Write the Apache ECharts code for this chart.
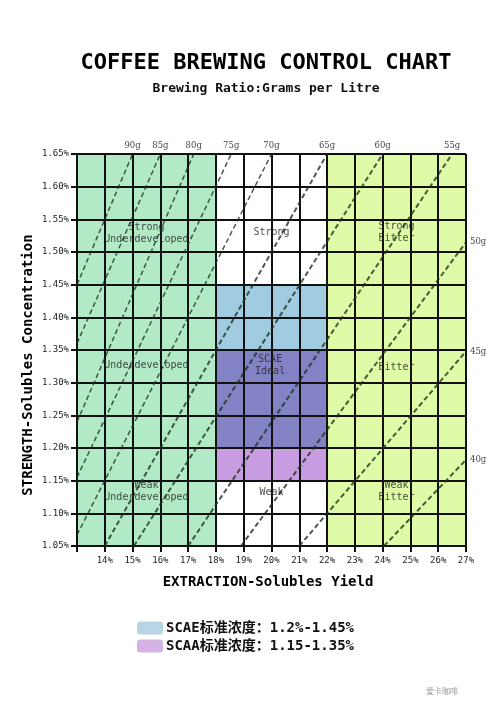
<!DOCTYPE html>
<html>
<head>
<meta charset="utf-8">
<title>Coffee Brewing Control Chart</title>
<script src="https://cdn.jsdelivr.net/npm/echarts@6/dist/echarts.min.js"></script>
<style>
  html, body { margin: 0; padding: 0; background: #fff; }
  #chart-container { width: 500px; height: 707px; }
</style>
</head>
<body>
<div id="chart-container"></div>
<script>
// extraction (%) on x, strength / TDS (%) on y
var xMin = 13, xMax = 27, xStep = 1;
var yMin = 1.05, yMax = 1.65, yStep = 0.05;

// coloured zones: [from, to] on each axis
var zoneNames = ["Underdeveloped", "Bitter", "SCAE", "SCAE+SCAA", "SCAA"];
var zoneX = [[13, 18], [22, 27], [18, 22], [18, 22], [18, 22]];
var zoneY = [[1.05, 1.65], [1.05, 1.65], [1.35, 1.45], [1.2, 1.35], [1.15, 1.2]];

// brewing ratio lines (grams per litre), low end and high end
var ratioNames = ["90g", "85g", "80g", "75g", "70g", "65g", "60g", "55g", "50g", "45g", "40g"];
var ratioLow = [[13, 1.45], [13, 1.36], [13, 1.24], [13, 1.155], [13, 1.067], [14, 1.05],
                [15.05, 1.05], [17, 1.05], [18.9, 1.05], [21, 1.05], [24.05, 1.05]];
var ratioHigh = [[15, 1.65], [16, 1.65], [17.2, 1.65], [18.55, 1.65], [20, 1.65], [22, 1.65],
                 [24, 1.65], [26.5, 1.65], [27, 1.515], [27, 1.348], [27, 1.182]];

// zone captions
var regionNames = ["Strong\nUnderdeveloped", "Strong", "Strong\nBitter",
                   "Underdeveloped", "SCAE\nIdeal", "Bitter",
                   "Weak\nUnderdeveloped", "Weak", "Weak\nBitter"];
var regionPos = [[15.5, 1.528], [20, 1.53], [24.5, 1.53],
                 [15.5, 1.327], [19.95, 1.327], [24.5, 1.323],
                 [15.5, 1.133], [20, 1.132], [24.5, 1.133]];

var legendNames = ["SCAE标准浓度：1.2%-1.45%", "SCAA标准浓度：1.15-1.35%"];

var zoneColors = ["#b2e9c7", "#e0fba8", "#a0cbe0", "#8282c4", "#c89ce0"];
var lineColor = "rgba(30,50,30,0.8)";
var mono = "'DejaVu Sans Mono', monospace";

var dom = document.getElementById("chart-container");
var myChart = echarts.init(dom, null, { renderer: "canvas" });

var areaData = [];
for (var i = 0; i < zoneNames.length; i++) {
  areaData.push([
    { name: zoneNames[i], xAxis: zoneX[i][0], yAxis: zoneY[i][0], itemStyle: { color: zoneColors[i], opacity: 1 } },
    { xAxis: zoneX[i][1], yAxis: zoneY[i][1] }
  ]);
}

var series = [
  {
    name: "zones",
    type: "line",
    z: 1,
    data: [],
    silent: true,
    markArea: { silent: true, label: { show: false }, data: areaData }
  }
];

for (var j = 0; j < ratioNames.length; j++) {
  series.push({
    name: ratioNames[j],
    type: "line",
    z: 4,
    silent: true,
    symbol: "none",
    data: [ratioLow[j], ratioHigh[j]],
    lineStyle: { color: lineColor, width: j < 5 ? 1.5 : 2, type: [5, 3] }
  });
}

// ratio tags at the high end of each line
var tagData = [];
for (var k = 0; k < ratioNames.length; k++) {
  var onTop = ratioHigh[k][1] >= yMax;
  tagData.push({
    name: ratioNames[k],
    value: ratioHigh[k],
    label: { position: onTop ? "top" : "right", distance: 4 }
  });
}
series.push({
  name: "tags",
  type: "scatter",
  z: 5,
  silent: true,
  symbolSize: 0,
  data: tagData,
  label: {
    show: true,
    formatter: "{b}",
    fontFamily: "'DejaVu Serif', serif",
    fontSize: 8.5,
    color: "#111"
  }
});

var capData = [];
for (var m = 0; m < regionNames.length; m++) {
  capData.push({ name: regionNames[m], value: regionPos[m] });
}
series.push({
  name: "captions",
  type: "scatter",
  z: 5,
  silent: true,
  symbolSize: 0,
  data: capData,
  label: {
    show: true,
    position: "inside",
    formatter: "{b}",
    fontFamily: mono,
    fontSize: 10,
    lineHeight: 12,
    color: "#222"
  }
});

// legend dummies
series.push({ name: legendNames[0], type: "scatter", data: [], itemStyle: { color: "#a6cbe0" } });
series.push({ name: legendNames[1], type: "scatter", data: [], itemStyle: { color: "#c8a0e0" } });

var option = {
  backgroundColor: "#fff",
  animation: false,
  title: {
    text: "COFFEE BREWING CONTROL CHART",
    subtext: "Brewing Ratio:Grams per Litre",
    left: 261,
    textAlign: "center",
    top: 47,
    itemGap: 8,
    textStyle: { fontFamily: mono, fontWeight: "bold", fontSize: 22, color: "#000" },
    subtextStyle: { fontFamily: mono, fontWeight: "bold", fontSize: 13, color: "#111" }
  },
  legend: {
    data: legendNames,
    orient: "vertical",
    left: 132,
    top: 616,
    itemGap: 4,
    itemWidth: 26,
    itemHeight: 13,
    icon: "roundRect",
    selectedMode: false,
    textStyle: {
      fontFamily: "'DejaVu Sans Mono', 'Noto Sans CJK SC', sans-serif",
      fontWeight: "bold",
      fontSize: 14,
      color: "#111",
      padding: [0, 0, 0, -2]
    }
  },
  grid: { left: 77, right: 34, top: 154, bottom: 161 },
  xAxis: {
    type: "value",
    min: xMin,
    max: xMax,
    interval: xStep,
    z: 3,
    axisLine: { show: true, lineStyle: { color: "#111", width: 2 } },
    axisTick: { show: true, length: 6, lineStyle: { color: "#111", width: 2 } },
    splitLine: { show: true, lineStyle: { color: "#111", width: 2 } },
    axisLabel: {
      margin: 10,
      fontFamily: mono,
      fontSize: 9,
      color: "#222",
      formatter: function (v) { return v === xMin ? "" : v + "%"; }
    }
  },
  yAxis: {
    type: "value",
    min: yMin,
    max: yMax,
    interval: yStep,
    z: 3,
    axisLine: { show: true, lineStyle: { color: "#111", width: 2 } },
    axisTick: { show: true, length: 6, lineStyle: { color: "#111", width: 2 } },
    splitLine: { show: true, lineStyle: { color: "#111", width: 2 } },
    axisLabel: {
      margin: 8,
      fontFamily: mono,
      fontSize: 9,
      color: "#222",
      formatter: function (v) { return v.toFixed(2) + "%"; }
    }
  },
  graphic: [
    {
      type: "text",
      x: 28,
      y: 365,
      rotation: Math.PI / 2,
      style: {
        text: "STRENGTH-Solubles Concentration",
        fontFamily: mono,
        fontWeight: "bold",
        fontSize: 14,
        fill: "#000",
        align: "center",
        verticalAlign: "middle"
      }
    },
    {
      type: "text",
      x: 268,
      y: 582,
      style: {
        text: "EXTRACTION-Solubles Yield",
        fontFamily: mono,
        fontWeight: "bold",
        fontSize: 14,
        fill: "#000",
        align: "center",
        verticalAlign: "middle"
      }
    },
    {
      type: "text",
      x: 442,
      y: 691,
      style: {
        text: "爱卡咖啡",
        fontFamily: "'Noto Sans CJK SC', sans-serif",
        fontSize: 8,
        fill: "#999",
        align: "center",
        verticalAlign: "middle"
      }
    }
  ],
  series: series
};

if (option && typeof option === "object") {
  myChart.setOption(option);
}

window.addEventListener("resize", myChart.resize);
</script>
</body>
</html>
